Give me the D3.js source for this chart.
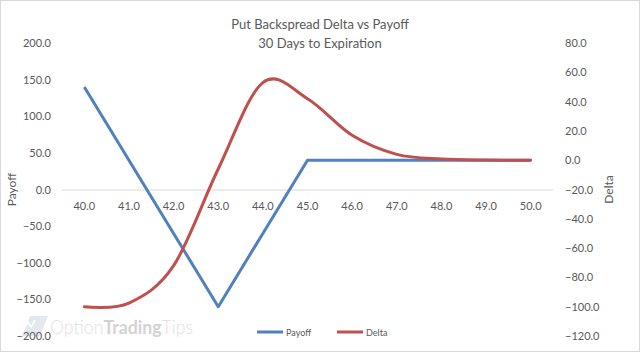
<!DOCTYPE html>
<html>
<head>
<meta charset="utf-8">
<script src="https://cdn.jsdelivr.net/npm/d3@7"></script>
<style>
  body { margin: 0; background: #fff; }
  text { font-family: Lato, "Open Sans", sans-serif; fill: #595959; }
</style>
</head>
<body>
<div id="container"></div>
<script>
/* DATA */
const strikes = ["40.0", "41.0", "42.0", "43.0", "44.0", "45.0", "46.0", "47.0", "48.0", "49.0", "50.0"];
const payoff = [140, 40, -60, -160, -60, 40, 40, 40, 40, 40, 40];
const delta = [-100, -97.5, -72, -6, 53, 42, 17, 4, 0.8, 0.1, 0];
const payoffTicks = [-200, -150, -100, -50, 0, 50, 100, 150, 200];
const deltaTicks = [-120, -100, -80, -60, -40, -20, 0, 20, 40, 60, 80];

/* CONSTANTS */
const width = 640;
const height = 353;
const plotLeft = 62, plotRight = 553, plotTop = 43, plotBottom = 336;

const svg = d3.select("#container")
  .append("svg")
  .attr("width", width)
  .attr("height", height);

// frame
svg.append("rect")
  .attr("x", 0.5).attr("y", 0.5)
  .attr("width", width - 1).attr("height", height - 2)
  .attr("fill", "#fff")
  .attr("stroke", "#d9d9d9");

/* SCALES */
const xScale = d3.scaleBand()
  .domain(strikes)
  .range([plotLeft, plotRight])
  .padding(0);
const xMid = d => xScale(d) + xScale.bandwidth() / 2;

const yLeft = d3.scaleLinear().domain([-200, 200]).range([plotBottom, plotTop]);
const yRight = d3.scaleLinear().domain([-120, 80]).range([plotBottom, plotTop]);

// watermark
const wm = svg.append("g").attr("opacity", 0.9);
wm.append("path")
  .attr("d", "M22,336 L30,316 L48,316 L40,336 Z")
  .attr("fill", "#e3e6ee");
wm.append("path")
  .attr("d", "M23,330 L28,322 L31,327 L35,320")
  .attr("fill", "none").attr("stroke", "#fff").attr("stroke-width", 1.5);
const wmText = wm.append("text")
  .attr("x", 50).attr("y", 334)
  .attr("textLength", 143)
  .attr("lengthAdjust", "spacingAndGlyphs")
  .style("font-size", "19px")
  .style("fill", "#dcdcdc");
wmText.append("tspan").style("fill", "#dedede").style("font-weight", 300).text("Option");
wmText.append("tspan").style("fill", "#cfcfcf").style("font-weight", 700).text("Trading");
wmText.append("tspan").style("fill", "#dedede").style("font-weight", 300).text("Tips");

// category axis line at payoff zero
svg.append("line")
  .attr("x1", plotLeft).attr("x2", plotRight)
  .attr("y1", yLeft(0) + 0.5).attr("y2", yLeft(0) + 0.5)
  .attr("stroke", "#d9d9d9");

// x labels
svg.selectAll("text.xlabel")
  .data(strikes)
  .join("text")
  .attr("class", "xlabel")
  .attr("x", d => xMid(d))
  .attr("y", yLeft(0) + 20)
  .attr("text-anchor", "middle")
  .style("font-size", "11px")
  .text(d => d);

// left axis
const leftAxis = svg.append("g")
  .attr("transform", `translate(${plotLeft - 11},0)`)
  .call(d3.axisLeft(yLeft).tickValues(payoffTicks).tickFormat(d3.format(".1f")).tickSize(0));
leftAxis.select(".domain").remove();
leftAxis.selectAll("text").style("font-size", "11px").style("font-family", "Lato, sans-serif").attr("fill", "#595959").attr("x", 0);

// right axis
const rightAxis = svg.append("g")
  .attr("transform", `translate(${plotRight + 12},0)`)
  .call(d3.axisRight(yRight).tickValues(deltaTicks).tickFormat(d3.format(".1f")).tickSize(0));
rightAxis.select(".domain").remove();
rightAxis.selectAll("text").style("font-size", "11px").style("font-family", "Lato, sans-serif").attr("fill", "#595959").attr("x", 0);

// axis titles
svg.append("text")
  .attr("transform", `translate(16,${(plotTop + plotBottom) / 2}) rotate(-90)`)
  .attr("text-anchor", "middle")
  .style("font-size", "12px")
  .text("Payoff");
svg.append("text")
  .attr("transform", `translate(613,${(plotTop + plotBottom) / 2}) rotate(-90)`)
  .attr("text-anchor", "middle")
  .style("font-size", "12px")
  .text("Delta");

// title
svg.append("text")
  .attr("x", 320).attr("y", 29)
  .attr("text-anchor", "middle")
  .style("font-size", "13px")
  .text("Put Backspread Delta vs Payoff");
svg.append("text")
  .attr("x", 320).attr("y", 48)
  .attr("text-anchor", "middle")
  .style("font-size", "13px")
  .text("30 Days to Expiration");

/* LINES */
const payoffLine = d3.line()
  .x((d, i) => xMid(strikes[i]))
  .y(d => yLeft(d));
svg.append("path")
  .datum(payoff)
  .attr("fill", "none")
  .attr("stroke", "#4F81BD")
  .attr("stroke-width", 3)
  .attr("stroke-linejoin", "round")
  .attr("d", payoffLine);

const deltaLine = d3.line()
  .x((d, i) => xMid(strikes[i]))
  .y(d => yRight(d))
  .curve(d3.curveCatmullRom.alpha(0));
svg.append("path")
  .datum(delta)
  .attr("fill", "none")
  .attr("stroke", "#C0504D")
  .attr("stroke-width", 3)
  .attr("stroke-linecap", "round")
  .attr("d", deltaLine);

/* LEGEND */
const legend = [
  { name: "Payoff", color: "#4F81BD", x: 257 },
  { name: "Delta", color: "#C0504D", x: 337 }
];
const lg = svg.selectAll("g.legend")
  .data(legend)
  .join("g")
  .attr("class", "legend")
  .attr("transform", d => `translate(${d.x},332)`);
lg.append("line")
  .attr("x1", 0).attr("x2", 26)
  .attr("stroke", d => d.color)
  .attr("stroke-width", 3);
lg.append("text")
  .attr("x", 29).attr("y", 3.5)
  .style("font-size", "9px")
  .text(d => d.name);
</script>
</body>
</html>
